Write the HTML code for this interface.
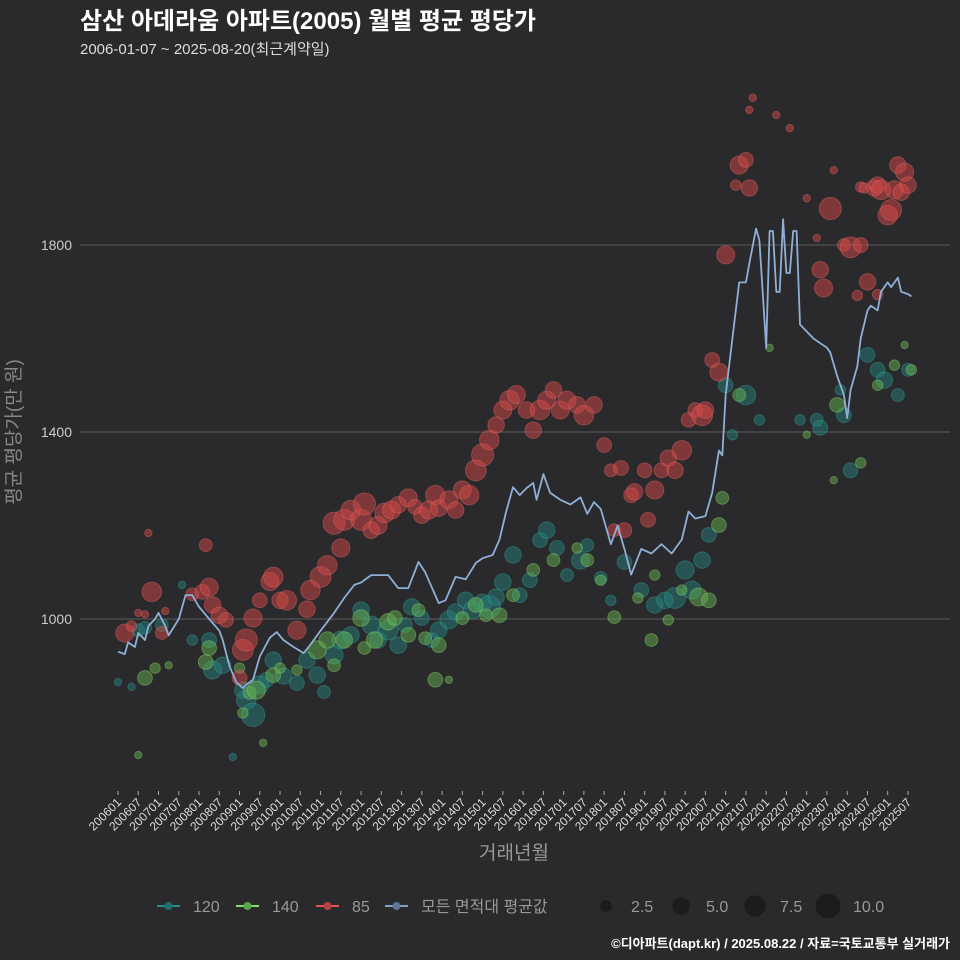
<!DOCTYPE html>
<html><head><meta charset="utf-8">
<style>
html,body{margin:0;padding:0;background:#2a292b;}
svg{display:block;font-family:"Liberation Sans","Noto Sans CJK KR",sans-serif;}
</style></head>
<body>
<svg id="chart" width="960" height="960" viewBox="0 0 960 960" xmlns="http://www.w3.org/2000/svg">
<rect x="0" y="0" width="960" height="960" fill="#2a292b"/>
<text x="80" y="29" font-size="24" font-weight="bold" fill="#ffffff">삼산 아데라움 아파트(2005) 월별 평균 평당가</text>
<text x="80" y="54" font-size="15" fill="#dddddd">2006-01-07 ~ 2025-08-20(최근계약일)</text>
<g id="grid"></g>
<g id="points"></g>
<g id="line"></g>
<g id="xaxis"></g>
<text x="514" y="859" font-size="19" fill="#999999" text-anchor="middle">거래년월</text>
<text x="0" y="0" font-size="19" fill="#888888" text-anchor="middle" transform="translate(20,432) rotate(-90)">평균 평당가(만 원)</text>
<g id="legend"></g>
<text x="950" y="948" font-size="13" font-weight="bold" fill="#ffffff" text-anchor="end">©디아파트(dapt.kr) / 2025.08.22 / 자료=국토교통부 실거래가</text>
</svg>
<script>
const yTicks=[1000,1400,1800];
const xTickLabels=[];
for(let y=2006;y<=2025;y++){xTickLabels.push(y+"01");xTickLabels.push(y+"07");}

const avgMonths=["2006-01","2006-03","2006-04","2006-06","2006-07","2006-09","2006-10","2006-12","2007-01","2007-03","2007-04","2007-07","2007-09","2007-11","2008-01","2008-04","2008-07","2008-08","2008-10","2008-12","2009-02","2009-03","2009-05","2009-07","2009-10","2009-12","2010-02","2010-05","2010-08","2010-10","2011-01","2011-05","2011-08","2011-11","2012-01","2012-04","2012-09","2012-12","2013-03","2013-06","2013-08","2013-12","2014-02","2014-05","2014-08","2014-11","2015-01","2015-04","2015-06","2015-08","2015-10","2015-12","2016-02","2016-04","2016-05","2016-07","2016-09","2016-12","2017-03","2017-06","2017-08","2017-10","2017-12","2018-03","2018-05","2018-07","2018-09","2018-12","2019-03","2019-06","2019-09","2019-12","2020-02","2020-04","2020-07","2020-09","2020-11","2020-12","2021-01","2021-03","2021-04","2021-05","2021-07","2021-08","2021-10","2021-11","2022-01","2022-02","2022-03","2022-04","2022-05","2022-06","2022-07","2022-08","2022-09","2022-10","2022-11","2023-01","2023-03","2023-05","2023-07","2023-08","2023-10","2023-12","2024-01","2024-02","2024-04","2024-05","2024-07","2024-08","2024-10","2024-11","2025-01","2025-02","2025-04","2025-05","2025-07","2025-08"];
const avgValues=[930,925,950,940,970,955,985,1000,1013,985,965,1000,1051,1051,1026,1000,975,955,900,865,852,860,870,920,960,972,955,940,927,945,975,1013,1045,1073,1078,1094,1094,1066,1066,1122,1100,1034,1040,1090,1085,1120,1130,1137,1170,1230,1282,1265,1280,1291,1255,1310,1270,1255,1245,1260,1225,1250,1235,1160,1200,1150,1095,1150,1140,1160,1140,1170,1230,1215,1220,1270,1360,1350,1480,1600,1660,1720,1720,1760,1835,1810,1580,1830,1830,1700,1700,1855,1740,1740,1830,1830,1630,1615,1600,1590,1580,1570,1520,1480,1430,1490,1540,1600,1660,1670,1660,1700,1720,1710,1730,1700,1695,1690];

const s85Months=["2006-03","2006-05","2006-07","2006-09","2006-10","2006-11","2007-02","2007-03","2007-11","2008-02","2008-03","2008-04","2008-05","2008-07","2008-09","2009-01","2009-02","2009-03","2009-05","2009-07","2009-10","2009-11","2010-01","2010-03","2010-06","2010-09","2010-10","2011-01","2011-03","2011-05","2011-07","2011-08","2011-10","2012-01","2012-02","2012-04","2012-06","2012-08","2012-10","2012-12","2013-03","2013-05","2013-07","2013-09","2013-11","2013-12","2014-03","2014-05","2014-07","2014-09","2014-11","2015-01","2015-03","2015-05","2015-07","2015-09","2015-11","2016-02","2016-04","2016-06","2016-08","2016-10","2016-12","2017-02","2017-05","2017-07","2017-10","2018-01","2018-03","2018-04","2018-06","2018-07","2018-09","2018-10","2019-01","2019-02","2019-04","2019-06","2019-08","2019-10","2019-12","2020-02","2020-04","2020-06","2020-07","2020-09","2020-11","2021-01","2021-04","2021-05","2021-07","2021-08","2021-08","2021-09","2022-04","2022-08","2023-01","2023-04","2023-05","2023-06","2023-08","2023-09","2023-12","2024-02","2024-04","2024-05","2024-07","2024-09","2024-10","2024-11","2025-01","2025-02","2025-03","2025-04","2025-05","2025-06","2025-07","2024-05","2024-06","2024-10"];
const s85Values=[970,985,1013,1010,1184,1058,970,1017,1053,1058,1158,1068,1030,1008,998,874,934,955,1002,1040,1080,1090,1040,1040,976,1021,1062,1090,1115,1205,1152,1212,1233,1212,1246,1190,1200,1227,1233,1244,1259,1240,1222,1233,1265,1237,1255,1233,1276,1265,1318,1351,1383,1415,1447,1468,1480,1447,1404,1447,1468,1490,1447,1468,1458,1436,1458,1372,1318,1190,1323,1190,1265,1272,1318,1212,1276,1318,1344,1318,1361,1426,1447,1436,1447,1554,1528,1779,1928,1971,1982,1922,2089,2115,2078,2050,1900,1815,1747,1708,1878,1960,1800,1795,1692,1800,1721,1922,1928,1918,1864,1875,1918,1971,1913,1956,1928,1924,1922,1694];
const s85Sizes=[6,2,1,1,1,7,3,1,3,4,3,6,5,5,4,4,8,9,6,4,6,7,5,7,6,5,7,8,7,9,6,8,7,8,9,5,6,7,6,5,6,4,5,6,7,5,6,5,6,7,8,9,7,5,6,7,6,5,5,7,6,5,6,6,5,7,5,4,3,3,4,4,4,5,4,4,6,4,5,5,7,4,4,8,5,4,6,6,2,6,4,5,1,1,1,1,1,1,5,6,9,1,3,8,2,4,5,5,5,7,7,8,6,5,5,6,5,2,2,2];

const s120Months=["2006-01","2006-05","2006-07","2006-09","2007-02","2007-08","2007-11","2008-04","2008-05","2008-08","2008-11","2009-02","2009-03","2009-05","2009-07","2009-09","2009-11","2010-02","2010-06","2010-09","2010-12","2011-02","2011-05","2011-07","2011-10","2012-01","2012-04","2012-06","2012-09","2012-12","2013-02","2013-04","2013-07","2013-10","2013-12","2014-03","2014-05","2014-08","2014-10","2015-01","2015-03","2015-05","2015-07","2015-10","2015-12","2016-03","2016-06","2016-08","2016-11","2017-02","2017-06","2017-08","2017-12","2018-03","2018-07","2018-12","2019-04","2019-07","2019-10","2020-01","2020-03","2020-06","2020-08","2021-01","2021-03","2021-07","2021-11","2022-11","2023-04","2023-05","2023-11","2023-12","2024-02","2024-07","2024-10","2024-12","2025-04","2025-07"];
const s120Values=[865,855,976,981,987,1073,955,955,891,901,705,848,827,795,859,870,912,878,863,912,880,844,923,955,966,1019,987,955,976,944,987,1026,1002,955,976,998,1015,1040,1019,1034,1026,1047,1079,1137,1051,1083,1169,1190,1152,1094,1126,1158,1088,1040,1122,1062,1030,1040,1045,1105,1062,1126,1180,1500,1394,1479,1426,1426,1426,1409,1490,1436,1318,1565,1533,1511,1479,1533];
const s120Sizes=[1,1,3,3,3,1,2,4,6,5,1,5,7,10,6,4,5,5,4,5,5,3,6,6,5,5,6,5,7,5,4,5,4,4,5,6,5,5,6,6,9,5,5,5,4,4,4,5,4,3,6,3,3,2,4,4,5,5,8,6,6,5,4,4,2,7,2,2,3,4,2,4,4,4,4,5,3,3];

const s140Months=["2006-07","2006-09","2006-12","2007-04","2008-03","2008-04","2009-01","2009-02","2009-04","2009-06","2009-08","2009-11","2010-01","2010-06","2010-12","2011-03","2011-05","2011-08","2012-01","2012-02","2012-05","2012-09","2012-11","2013-03","2013-06","2013-08","2013-11","2013-12","2014-03","2014-07","2014-11","2015-02","2015-06","2015-10","2016-04","2016-10","2017-05","2017-08","2017-12","2018-04","2018-11","2019-03","2019-04","2019-08","2019-12","2020-05","2020-08","2020-11","2020-12","2021-05","2022-02","2023-01","2023-09","2023-10","2024-05","2024-10","2025-03","2025-06","2025-08"];
const s140Values=[709,874,895,901,908,938,895,799,842,848,735,880,895,891,934,955,901,955,1002,938,955,994,1002,966,1019,959,870,944,870,1002,1030,1008,1008,1051,1105,1126,1152,1126,1083,1004,1045,955,1094,998,1062,1047,1040,1201,1259,1479,1580,1394,1297,1458,1334,1500,1543,1586,1533];
const s140Sizes=[1,4,2,1,4,4,2,2,3,6,1,4,2,2,6,5,3,5,5,3,5,5,4,4,3,3,4,4,1,3,4,3,4,3,3,3,2,3,2,3,2,3,2,2,2,6,4,4,3,3,1,1,1,4,2,2,2,1,2];

const legendSizes=[2.5,5.0,7.5,10.0];

const NS="http://www.w3.org/2000/svg";
const X0=118, PXM=3.376, Y1000=619, PXV=0.4675;
function monthIdx(s){const p=s.replace("-","");return (parseInt(p.slice(0,4))-2006)*12+parseInt(p.slice(4,6))-1;}
function xScale(s){return X0+monthIdx(s)*PXM;}
function yScale(v){return Y1000-(v-1000)*PXV;}
function rScale(s){return 3.7*Math.sqrt(s);}
function mk(tag,attrs,parent){const e=document.createElementNS(NS,tag);for(const k in attrs)e.setAttribute(k,attrs[k]);parent.appendChild(e);return e;}

const grid=document.getElementById('grid');
yTicks.forEach(v=>{
  const l=mk('line',{x1:80,x2:950,y1:yScale(v),y2:yScale(v),stroke:'#5c5c5c','stroke-width':1},grid);
  
  
  const t=mk('text',{x:72,y:yScale(v)+5,'font-size':14,fill:'#cccccc','text-anchor':'end'},grid);
  
  
  t.textContent=v;
});

const xa=document.getElementById('xaxis');
xTickLabels.forEach(lab=>{
  const x=xScale(lab.slice(0,4)+"-"+lab.slice(4));
  const tk=mk('line',{x1:x,x2:x,y1:791,y2:795,stroke:'#aaaaaa','stroke-width':1},xa);
  
  
  const t=mk('text',{x:0,y:0,'font-size':12,fill:'#dddddd','text-anchor':'end',transform:`translate(${x+4},${803}) rotate(-45)`},xa);
  
  
  t.textContent=lab;
});

const pts=document.getElementById('points');
const series=[
  {name:'120',months:s120Months,values:s120Values,sizes:s120Sizes,fill:'#23807c',stroke:'#34a39c'},
  {name:'140',months:s140Months,values:s140Values,sizes:s140Sizes,fill:'#62b050',stroke:'#8ed472'},
  {name:'85',months:s85Months,values:s85Values,sizes:s85Sizes,fill:'#d24848',stroke:'#e86a6a'}
];
series.forEach(s=>{
  s.months.forEach((m,i)=>{
    const c=mk('circle',{cx:xScale(m),cy:yScale(s.values[i]),r:rScale(s.sizes[i]),fill:s.fill,'fill-opacity':0.5,stroke:s.stroke,'stroke-opacity':0.4,'stroke-width':1},pts);
    
    
  });
});

const lg=document.getElementById('line');
const d=avgMonths.map((m,i)=>(i?'L':'M')+xScale(m).toFixed(1)+','+yScale(avgValues[i]).toFixed(1)).join(' ');
const path=mk('path',{d:d,fill:'none',stroke:'#8fb0d6','stroke-width':1.8,'stroke-linejoin':'round'},lg);



const leg=document.getElementById('legend');
const entries=[['120','#2a8f8a','#1f6f6c',157],['140','#7de36a','#5aa84d',236],['85','#e05555','#b44444',316],['모든 면적대 평균값','#7fa3cf','#5c7796',385]];
entries.forEach(e=>{
  const g=mk('g',{},leg);
  
  
  mk('line',{x1:e[3],x2:e[3]+23,y1:906,y2:906,stroke:e[1],'stroke-width':2},g);
  mk('circle',{cx:e[3]+11.5,cy:906,r:4,fill:e[2]},g);
  const t=mk('text',{x:e[3]+36,y:912,'font-size':16,fill:'#999999'},g);
  t.textContent=e[0];
});
const sizeX=[606,681,755,828];
legendSizes.forEach((s,i)=>{
  const g=mk('g',{},leg);
  
  
  mk('circle',{cx:sizeX[i],cy:906,r:3.9*Math.sqrt(s)*(i===0?0.95:1),fill:'#1c1b1d'},g);
  const t=mk('text',{x:sizeX[i]+25,y:912,'font-size':16,fill:'#999999'},g);
  t.textContent=s.toFixed(1);
});
</script>
</body></html>
